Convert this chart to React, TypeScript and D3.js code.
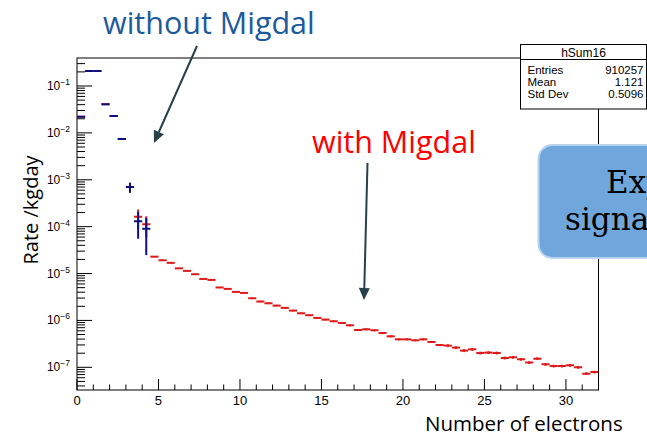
import React from "react";
import * as d3 from "d3";

const W = 647;
const H = 437;

// Histogram binning: 0.5 electrons per bin, 0 .. 32
const binWidth = 0.5;
const xMax = 32;

// Rate per bin (kg^-1 day^-1), with Migdal effect
const withMigdal = [
  0.0221, 0.209, 0.209, 0.0407, 0.0229, 0.00738, 6.97e-4, 1.62e-4, 1.13e-4,
  2.29e-5, 1.92e-5, 1.69e-5, 1.29e-5, 1.14e-5, 9.66e-6, 7.67e-6, 7.31e-6,
  5.04e-6, 4.7e-6, 4.06e-6, 3.86e-6, 2.97e-6, 2.53e-6, 2.32e-6, 2.07e-6,
  1.85e-6, 1.62e-6, 1.42e-6, 1.29e-6, 1.13e-6, 1.04e-6, 9.6e-7, 8.83e-7,
  7.87e-7, 6.25e-7, 6.47e-7, 6.17e-7, 5.4e-7, 4.58e-7, 3.95e-7, 3.95e-7,
  3.77e-7, 3.95e-7, 3.47e-7, 2.99e-7, 2.9e-7, 2.63e-7, 2.27e-7, 2.42e-7,
  2.02e-7, 2.06e-7, 2.02e-7, 1.58e-7, 1.63e-7, 1.48e-7, 1.26e-7, 1.53e-7,
  1.16e-7, 1.06e-7, 1.06e-7, 1.1e-7, 1.0e-7, 7.33e-8, 7.93e-8,
];

// Relative statistical uncertainty of each bin above
const withMigdalRelErr = [
  0.005, 0.005, 0.005, 0.005, 0.005, 0.005, 0.24, 0.44, 0.48,
  0.03, 0.03, 0.03, 0.03, 0.03, 0.03, 0.03, 0.03, 0.03, 0.03, 0.03, 0.03,
  0.04, 0.04, 0.04, 0.04, 0.04, 0.04, 0.04, 0.04, 0.04, 0.04, 0.04, 0.04,
  0.05, 0.05, 0.05, 0.05, 0.05, 0.05, 0.05, 0.05, 0.05, 0.05, 0.05, 0.05,
  0.07, 0.07, 0.07, 0.07, 0.07, 0.07, 0.07, 0.07, 0.07, 0.07, 0.07, 0.07,
  0.07, 0.07, 0.07, 0.07, 0.07, 0.07, 0.07,
];

// Rate per bin without Migdal effect (only the first bins are populated)
const withoutMigdal = [0.0221, 0.209, 0.209, 0.0407, 0.0229, 0.00738, 6.97e-4, 1.31e-4, 8.97e-5];
const withoutMigdalErr = [1e-4, 5e-4, 5e-4, 2e-4, 1e-4, 3e-4, 1.7e-4, 7.6e-5, 6.5e-5];

const xMajorTicks = [0, 5, 10, 15, 20, 25, 30];
const yDecades = [-7, -6, -5, -4, -3, -2, -1];

const statsTitle = "hSum16";
const statsLabels = ["Entries", "Mean", "Std Dev"];
const statsValues = ["910257", "1.121", "0.5096"];

const xTitle = "Number of electrons";
const yTitle = "Rate /kgday";

const frame = { left: 77, right: 598.5, top: 58, bottom: 390 };

const x = d3.scaleLinear().domain([0, xMax]).range([frame.left, frame.right]);
const y = d3.scaleLog().domain([3.28e-8, 0.3957]).range([frame.bottom, frame.top]);

const RED = "#e01a1a";
const BLUE = "#10107a";
const ARROW = "#27404c";
const sans = "'Liberation Sans', Arial, Helvetica, sans-serif";
const label = "'Open Sans', 'Noto Sans', sans-serif";
const serif = "'DejaVu Serif', 'Liberation Serif', serif";

function Hist({ values, errs, relative, color }: { values: number[]; errs: number[]; relative: boolean; color: string }) {
  const [y0] = y.domain();
  return (
    <g>
      {values.map((v, i) => {
        const lo = i * binWidth;
        const hi = lo + binWidth;
        const e = relative ? v * errs[i] : errs[i];
        const cx = x(lo + binWidth / 2);
        const top = y(v + e);
        const bot = y(Math.max(v - e, y0));
        return (
          <g key={i}>
            <line x1={cx} x2={cx} y1={top} y2={bot} stroke={color} strokeWidth={2} />
            <line x1={x(lo)} x2={x(hi)} y1={y(v)} y2={y(v)} stroke={color} strokeWidth={2} />
          </g>
        );
      })}
    </g>
  );
}

function Arrow({ x1, y1, x2, y2 }: { x1: number; y1: number; x2: number; y2: number }) {
  const ang = Math.atan2(y2 - y1, x2 - x1);
  const len = 12;
  const half = 5.5;
  const bx = x2 - len * Math.cos(ang);
  const by = y2 - len * Math.sin(ang);
  const px = -Math.sin(ang) * half;
  const py = Math.cos(ang) * half;
  return (
    <g>
      <line x1={x1} y1={y1} x2={bx} y2={by} stroke={ARROW} strokeWidth={2} />
      <polygon points={`${x2},${y2} ${bx + px},${by + py} ${bx - px},${by - py}`} fill={ARROW} />
    </g>
  );
}

export default function App() {
  const minorY: number[] = [];
  for (let n = -8; n <= -1; n++) {
    for (let k = 2; k <= 9; k++) {
      const v = k * Math.pow(10, n);
      if (v > y.domain()[0] && v < y.domain()[1]) minorY.push(v);
    }
  }
  const minorX = d3.range(1, xMax).filter((t) => t % 5 !== 0);

  return (
    <svg width={W} height={H} style={{ position: "absolute", left: 0, top: 0, background: "#fff" }}>
      <rect width={W} height={H} fill="#fff" />
      <defs>
        <clipPath id="plotArea">
          <rect x={frame.left} y={frame.top} width={frame.right - frame.left} height={frame.bottom - frame.top} />
        </clipPath>
      </defs>

      {/* frame */}
      <rect x={frame.left} y={frame.top} width={frame.right - frame.left} height={frame.bottom - frame.top} fill="none" stroke="#000" strokeWidth={1} />

      {/* y axis ticks */}
      {yDecades.map((d) => (
        <line key={"ym" + d} x1={frame.left} x2={frame.left + 15} y1={y(Math.pow(10, d))} y2={y(Math.pow(10, d))} stroke="#000" />
      ))}
      {minorY.map((v, i) => (
        <line key={"yn" + i} x1={frame.left} x2={frame.left + 8} y1={y(v)} y2={y(v)} stroke="#000" />
      ))}
      {yDecades.map((d) => (
        <text key={"yl" + d} x={70} y={y(Math.pow(10, d)) + 4} textAnchor="end" fontFamily={sans} fontSize={12} fill="#000">
          10
          <tspan dy={-5} fontSize={8.5}>{"\u2212" + Math.abs(d)}</tspan>
        </text>
      ))}

      {/* x axis ticks */}
      {xMajorTicks.map((t) => (
        <line key={"xm" + t} x1={x(t)} x2={x(t)} y1={frame.bottom} y2={frame.bottom - 11} stroke="#000" />
      ))}
      {minorX.map((t) => (
        <line key={"xn" + t} x1={x(t)} x2={x(t)} y1={frame.bottom} y2={frame.bottom - 5.5} stroke="#000" />
      ))}
      {xMajorTicks.map((t) => (
        <text key={"xl" + t} x={x(t)} y={405} textAnchor="middle" fontFamily={sans} fontSize={13} fill="#000">
          {t}
        </text>
      ))}

      {/* histograms */}
      <g clipPath="url(#plotArea)">
        <Hist values={withMigdal} errs={withMigdalRelErr} relative={true} color={RED} />
        <Hist values={withoutMigdal} errs={withoutMigdalErr} relative={false} color={BLUE} />
      </g>

      {/* axis titles */}
      <text x={425} y={431} fontFamily={label} fontSize={20.5} fill="#000">{xTitle}</text>
      <text transform="translate(38,210) rotate(-90)" textAnchor="middle" fontFamily={label} fontSize={20} fill="#000">
        {yTitle}
      </text>

      {/* statistics box */}
      <g>
        <rect x={520.5} y={44.5} width={126} height={64.5} fill="#fff" stroke="#000" strokeWidth={1} />
        <line x1={520.5} x2={646.5} y1={59.5} y2={59.5} stroke="#000" />
        <text x={583.5} y={57} textAnchor="middle" fontFamily={sans} fontSize={12} fill="#000">{statsTitle}</text>
        {statsLabels.map((s, i) => (
          <g key={s}>
            <text x={527.5} y={74 + i * 12.2} fontFamily={sans} fontSize={11.5} fill="#000">{s}</text>
            <text x={643.5} y={74 + i * 12.2} textAnchor="end" fontFamily={sans} fontSize={11.5} fill="#000">{statsValues[i]}</text>
          </g>
        ))}
      </g>

      {/* callout */}
      <rect x={538.5} y={145} width={200} height={113} rx={14} fill="#6fa7dd" stroke="#b9d2ee" strokeWidth={2} />
      <text x={606} y={193} fontFamily={serif} fontSize={31} fill="#000">Expected</text>
      <text x={565} y={230} fontFamily={serif} fontSize={31} fill="#000">signal</text>

      {/* annotations */}
      <text x={103} y={34} fontFamily={label} fontSize={30.5} fill="#1d5a9c">without Migdal</text>
      <Arrow x1={197} y1={46} x2={154} y2={143} />
      <text x={312} y={152.5} fontFamily={label} fontSize={30.5} fill="#ff0000">with Migdal</text>
      <Arrow x1={367.5} y1={163} x2={364} y2={300} />
    </svg>
  );
}
